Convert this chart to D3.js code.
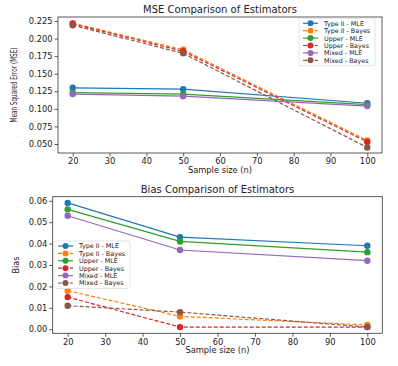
<!DOCTYPE html>
<html>
<head>
<meta charset="utf-8">
<script src="https://cdn.jsdelivr.net/npm/d3@7"></script>
<style>
body{margin:0;background:#fff;}
svg{font-family:"DejaVu Sans",sans-serif;}
</style>
</head>
<body>
<div id="chart"></div>
<script>
// sample sizes
let sizes=[20,50,100]
let seriesNames=["Type II - MLE","Type II - Bayes","Upper - MLE","Upper - Bayes","Mixed - MLE","Mixed - Bayes"]
let colors=["#1f77b4","#ff7f0e","#2ca02c","#d62728","#9467bd","#8c564b"]
let dashed=[false,true,false,true,false,true]

// MSE values per series
let mseTypeIIMLE=[0.130,0.128,0.108]
let mseTypeIIBayes=[0.222,0.184,0.055]
let mseUpperMLE=[0.123,0.121,0.106]
let mseUpperBayes=[0.221,0.182,0.053]
let mseMixedMLE=[0.121,0.118,0.104]
let mseMixedBayes=[0.219,0.179,0.045]

// Bias values per series
let biasTypeIIMLE=[0.059,0.043,0.039]
let biasTypeIIBayes=[0.018,0.006,0.002]
let biasUpperMLE=[0.056,0.041,0.036]
let biasUpperBayes=[0.015,0.001,0.001]
let biasMixedMLE=[0.053,0.037,0.032]
let biasMixedBayes=[0.011,0.008,0.001]

let xTicks=[20,30,40,50,60,70,80,90,100]
let mseTicks=[0.050,0.075,0.100,0.125,0.150,0.175,0.200,0.225]
let biasTicks=[0.00,0.01,0.02,0.03,0.04,0.05,0.06]

let mseData=[mseTypeIIMLE,mseTypeIIBayes,mseUpperMLE,mseUpperBayes,mseMixedMLE,mseMixedBayes]
let biasData=[biasTypeIIMLE,biasTypeIIBayes,biasUpperMLE,biasUpperBayes,biasMixedMLE,biasMixedBayes]

let svg=d3.select("#chart").append("svg")
    .attr("width",398)
    .attr("height",366)

function drawPanel(opt){
    let g=svg.append("g")
    let x=d3.scaleLinear().domain([16,104]).range([opt.left,opt.right])
    let y=d3.scaleLinear().domain(opt.ydomain).range([opt.bottom,opt.top])

    // axes
    let xAxis=d3.axisBottom(x).tickValues(xTicks).tickSize(3.5).tickPadding(2)
    let yAxis=d3.axisLeft(y).tickValues(opt.yticks).tickSize(3.5).tickPadding(2).tickFormat(opt.fmt)
    let gx=g.append("g").attr("transform",`translate(0,${opt.bottom})`).call(xAxis)
    let gy=g.append("g").attr("transform",`translate(${opt.left},0)`).call(yAxis)
    ;[gx,gy].forEach(a=>{
        a.select(".domain").remove()
        a.selectAll("line").attr("stroke","#333").attr("stroke-width",0.8)
        a.selectAll("text").attr("font-size","8.3px").attr("fill","#222").attr("font-family","DejaVu Sans")
    })
    g.append("rect")
        .attr("x",opt.left).attr("y",opt.top)
        .attr("width",opt.right-opt.left).attr("height",opt.bottom-opt.top)
        .attr("fill","none").attr("stroke","#333").attr("stroke-width",0.8)

    // lines
    let line=d3.line().x((d,i)=>x(sizes[i])).y(d=>y(d))
    opt.data.forEach((s,k)=>{
        g.append("path").datum(s)
            .attr("d",line)
            .attr("fill","none")
            .attr("stroke",colors[k])
            .attr("stroke-width",1.2)
            .attr("stroke-dasharray",dashed[k]?"4,2":null)
        g.selectAll(".pt"+k).data(s).enter().append("circle")
            .attr("cx",(d,i)=>x(sizes[i]))
            .attr("cy",d=>y(d))
            .attr("r",3.2)
            .attr("fill",colors[k])
    })

    // title and labels
    g.append("text").attr("x",(opt.left+opt.right)/2).attr("y",opt.top-4)
        .attr("text-anchor","middle").attr("font-size","10px").attr("fill","#222")
        .text(opt.title)
    g.append("text").attr("x",(opt.left+opt.right)/2).attr("y",opt.bottom+20)
        .attr("text-anchor","middle").attr("font-size","8.3px").attr("fill","#222")
        .text("Sample size (n)")
    let yl=g.append("text")
        .attr("transform",`translate(${opt.ylx},${(opt.top+opt.bottom)/2}) rotate(-90)`)
        .attr("text-anchor","middle").attr("font-size","8px").attr("fill","#222")
        .text(opt.ylabel)
    if(opt.ylen) yl.attr("textLength",opt.ylen).attr("lengthAdjust","spacingAndGlyphs")

    // legend
    let lg=g.append("g").attr("transform",`translate(${opt.lx},${opt.ly})`)
    lg.append("rect").attr("x",-4).attr("y",-5).attr("width",opt.lw).attr("height",6*7.4+3)
        .attr("rx",2).attr("fill","#fff").attr("fill-opacity",0.8)
        .attr("stroke","#ddd").attr("stroke-width",0.8)
    seriesNames.forEach((n,k)=>{
        let row=lg.append("g").attr("transform",`translate(0,${k*7.4})`)
        row.append("line").attr("x1",0).attr("x2",15).attr("y1",0).attr("y2",0)
            .attr("stroke",colors[k]).attr("stroke-width",1.2)
            .attr("stroke-dasharray",dashed[k]?"4,2":null)
        row.append("circle").attr("cx",7.5).attr("cy",0).attr("r",3).attr("fill",colors[k])
        row.append("text").attr("x",21).attr("y",2.4)
            .attr("font-size","6.4px").attr("fill","#222").text(n)
    })
}

drawPanel({
    left:58,right:382,top:17,bottom:153,
    ydomain:[0.0372,0.2307],yticks:mseTicks,fmt:d3.format(".3f"),
    data:mseData,title:"MSE Comparison of Estimators",
    ylabel:"Mean Squared Error (MSE)",ylx:17,ylen:75,
    lx:303,ly:23.3,lw:76
})
drawPanel({
    left:52.7,right:382.3,top:196.7,bottom:333.3,
    ydomain:[-0.0019,0.0619],yticks:biasTicks,fmt:d3.format(".2f"),
    data:biasData,title:"Bias Comparison of Estimators",
    ylabel:"Bias",ylx:19,ylen:null,
    lx:58,ly:246,lw:76
})
</script>
</body>
</html>
